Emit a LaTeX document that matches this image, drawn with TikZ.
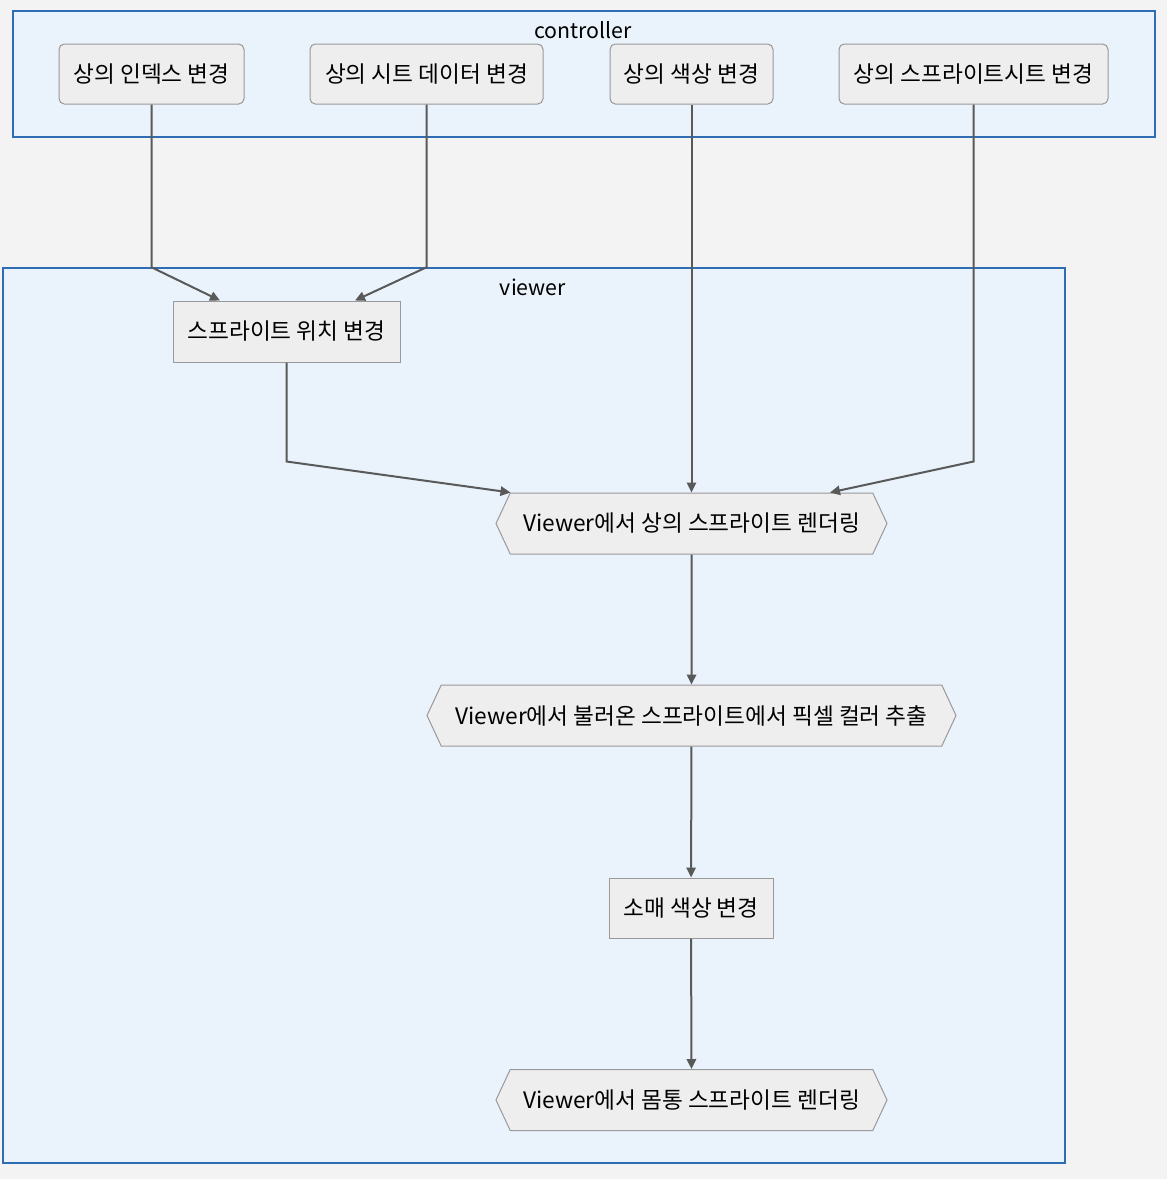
\documentclass[tikz,border=0pt]{standalone}
\usepackage{fontspec}
\setmainfont{Noto Sans CJK KR}
\usetikzlibrary{positioning,arrows.meta,calc,shapes.symbols}
\definecolor{canvas}{RGB}{243,243,243}
\definecolor{groupfill}{RGB}{234,242,251}
\definecolor{groupline}{RGB}{46,109,180}
\definecolor{boxfill}{RGB}{238,238,238}
\definecolor{boxline}{RGB}{153,153,153}
\definecolor{wire}{RGB}{89,89,89}

\begin{document}
\begin{tikzpicture}[x=0.75pt, y=-0.75pt, >={Triangle[length=7.5pt,width=7pt]},
    font=\fontsize{17}{20}\selectfont,
    group/.style={draw=groupline,fill=groupfill,line width=1.1pt,inner sep=0pt},
    act/.style={draw=boxline,fill=boxfill,line width=0.75pt,rounded corners=4pt,
                minimum height=45pt,inner sep=2pt},
    sq/.style={act,rounded corners=0pt,minimum height=45.75pt},
    hexa/.style={draw=boxline,fill=boxfill,line width=0.75pt,shape=signal,
                 signal to=west and east,signal pointer angle=130,
                 minimum height=45.75pt,inner sep=2pt},
    link/.style={draw=wire,line width=1.5pt,->}]
    \fill[canvas] (0,0) rectangle (1167,1179);
    \useasboundingbox (0,0) rectangle (1167,1179);
    % groups
    \node[group,minimum width=856.5pt,minimum height=94.5pt] (ctrl) at (584,74) {};
    \node[group,minimum width=796.5pt,minimum height=671.25pt] (view) at (534,715.5) {};
    \node[font=\fontsize{16}{19}\selectfont] at (583,30) {controller};
    \node[font=\fontsize{16}{19}\selectfont] at (533,287) {viewer};
    % controller
    \node[act,minimum width=138.75pt] (c1) at (151.5,74) {상의 인덱스 변경};
    \node[act,minimum width=174.75pt] (c2) at (426.5,74) {상의 시트 데이터 변경};
    \node[act,minimum width=122.25pt] (c3) at (691.5,74) {상의 색상 변경};
    \node[act,minimum width=201.75pt] (c4) at (973.5,74) {상의 스프라이트시트 변경};
    % viewer
    \node[sq,minimum width=170.25pt]   (v1) at (286.5,331.5) {스프라이트 위치 변경};
    \node[hexa,minimum width=293.25pt] (v2) at (691.5,523.5) {Viewer에서 상의 스프라이트 렌더링};
    \node[hexa,minimum width=396.75pt] (v3) at (691.5,715.5) {Viewer에서 불러온 스프라이트에서 픽셀 컬러 추출};
    \node[sq,minimum width=123pt,minimum height=45pt] (v4) at (691,908) {소매 색상 변경};
    \node[hexa,minimum width=293.25pt] (v5) at (691.5,1100) {Viewer에서 몸통 스프라이트 렌더링};
    % links
    \draw[link] (c1.south) -- (c1.south |- view.north) -- ($(v1.north)+(-66.5,0)$);
    \draw[link] (c2.south) -- (c2.south |- view.north) -- ($(v1.north)+(68.5,0)$);
    \draw[link] (c3.south) -- (v2.north);
    \draw[link] (c4.south) -- ($(c4.south)+(0,357)$) -- ($(v2.north)+(138.5,0)$);
    \draw[link] (v1.south) -- ($(v1.south)+(0,99)$) -- ($(v2.north)+(-181,0)$);
    \foreach \a/\b in {v2/v3,v3/v4,v4/v5} \draw[link] (\a) -- (\b);
\end{tikzpicture}
\end{document}
